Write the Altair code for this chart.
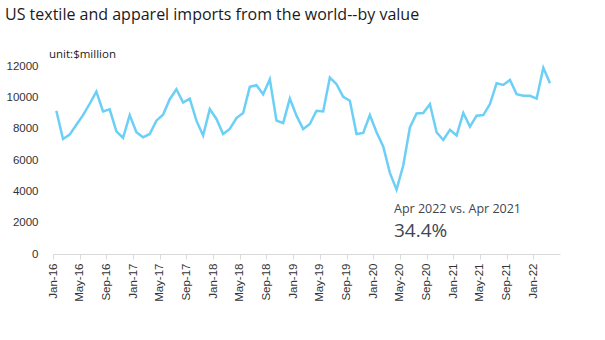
import altair as alt
import pandas as pd

# ---- data ----
month_names = ["Jan", "Feb", "Mar", "Apr", "May", "Jun",
               "Jul", "Aug", "Sep", "Oct", "Nov", "Dec"]
years = [16, 17, 18, 19, 20, 21, 22]
months = [f"{m}-{y}" for y in years for m in month_names][:76]  # Jan-16 .. Apr-22

values_2016 = [9140, 7340, 7620, 8250, 8860, 9590, 10370, 9100, 9230, 7830, 7410, 8870]
values_2017 = [7770, 7450, 7660, 8510, 8890, 9880, 10520, 9670, 9920, 8510, 7560, 9250]
values_2018 = [8620, 7660, 7980, 8680, 9000, 10670, 10770, 10200, 11150, 8510, 8360, 9920]
values_2019 = [8830, 7980, 8300, 9140, 9100, 11260, 10840, 10030, 9780, 7660, 7730, 8870]
values_2020 = [7770, 6860, 5180, 4110, 5650, 8080, 8970, 9000, 9570, 7770, 7280, 7920]
values_2021 = [7560, 9000, 8130, 8830, 8870, 9570, 10900, 10790, 11110, 10200, 10100, 10100]
values_2022 = [9920, 11890, 10900, None]

imports = (values_2016 + values_2017 + values_2018 + values_2019
           + values_2020 + values_2021 + values_2022)

title_text = "US textile and apparel imports from the world--by value"
unit_text = "unit:$million"
note_text = "Apr 2022 vs. Apr 2021"
note_value = "34.4%"
y_ticks = [0, 2000, 4000, 6000, 8000, 10000, 12000]

df = pd.DataFrame({"month": months, "idx": list(range(len(months))), "value": imports})
df["pos"] = df["idx"] + 0.5
df = df.dropna()

n = len(months)
label_values = [i + 0.5 for i in range(0, n, 4)] + [n + 0.5]
label_array = "[" + ",".join(f"'{m}'" for m in months) + "]"
label_expr = f"datum.value < {n} ? {label_array}[floor(datum.value)] : ''"

W, H = 507, 188
PAD_L, PAD_T = 53, 66

x_enc = alt.X(
    "pos:Q",
    scale=alt.Scale(domain=[0, n], nice=False, zero=False),
    axis=alt.Axis(
        values=label_values,
        labelExpr=label_expr,
        labelAngle=-90,
        labelFont="Liberation Sans",
        labelFontSize=11.5,
        labelColor="#333333",
        labelPadding=4,
        tickSize=5,
        tickOffset=-(W / n) / 2,
        tickColor="#D9D9D9",
        domainColor="#D9D9D9",
        grid=False,
        title=None,
        labelOverlap=False,
        labelFlush=False,
    ),
)

y_enc = alt.Y(
    "value:Q",
    scale=alt.Scale(domain=[0, 12000], nice=False),
    axis=alt.Axis(
        values=y_ticks,
        format="d",
        labelFont="Liberation Sans",
        labelFontSize=11.5,
        labelColor="#333333",
        labelPadding=15,
        ticks=False,
        tickSize=0,
        domain=False,
        grid=False,
        title=None,
    ),
)

line = alt.Chart(df).mark_line(color="#6CCFF6", strokeWidth=2.5, clip=False).encode(
    x=x_enc, y=y_enc
)


def label(text, x, y, size, color):
    return alt.Chart(pd.DataFrame({"t": [text]})).mark_text(
        align="left", baseline="alphabetic", font="Open Sans", fontSize=size, color=color
    ).encode(x=alt.value(x), y=alt.value(y), text="t:N")


title = label(title_text, -48, -46, 16, "#1a1a1a")
unit = label(unit_text, -4, -8, 11.5, "#222222")
note1 = label(note_text, 341, 147, 12.5, "#404654")
note2 = label(note_value, 341, 171, 19, "#404654")

chart = (
    alt.layer(line, title, unit, note1, note2)
    .properties(
        width=W,
        height=H,
        autosize=alt.AutoSizeParams(type="none"),
        padding={"left": PAD_L, "top": PAD_T, "right": 605 - PAD_L - W, "bottom": 340 - PAD_T - H},
        background="white",
    )
    .configure_view(stroke=None)
)

chart.save("out.html", embed_options={"renderer": "svg", "actions": False})
